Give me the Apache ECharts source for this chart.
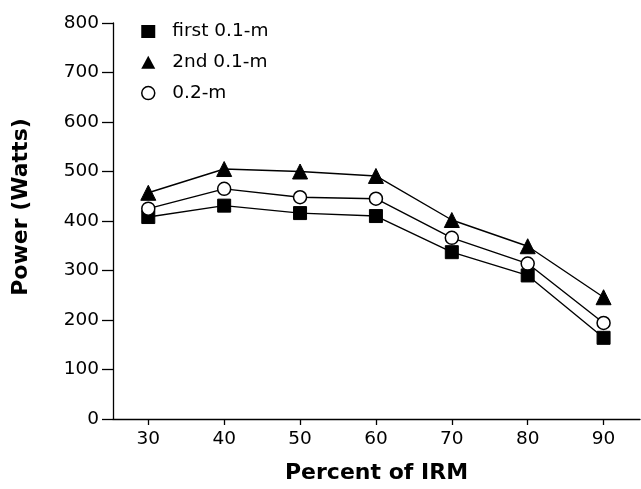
<!DOCTYPE html>
<html><head><meta charset="utf-8">
<script src="https://cdn.jsdelivr.net/npm/echarts@6/dist/echarts.min.js"></script>
<style>html,body{margin:0;padding:0;background:#fff}#c{width:641px;height:489px}</style>
</head><body><div id="c"></div>
<script>
var percentIRM = [30, 40, 50, 60, 70, 80, 90];
var first01m = [408, 431, 416, 410, 337, 290, 164];
var second01m = [457, 505, 500, 491, 402, 349, 246];
var m02 = [425, 465, 448, 445, 366, 314, 194];
var xTicks = [30, 40, 50, 60, 70, 80, 90];
var seriesNames = ['first 0.1-m', '2nd 0.1-m', '0.2-m'];

function pairs(v) { return percentIRM.map(function (x, i) { return [x, v[i]]; }); }
var font = 'DejaVu Sans, Liberation Sans, Arial, sans-serif';
var chart = echarts.init(document.getElementById('c'));
chart.setOption({
  animation: false,
  backgroundColor: '#fff',
  grid: { left: 113, right: 1, top: 23, bottom: 70, containLabel: false },
  legend: {
    orient: 'vertical', left: 136, top: 17, itemGap: 11.8, itemWidth: 14, itemHeight: 13,
    textStyle: { fontFamily: font, fontSize: 18.5, color: '#000', padding: [0, 0, 0, 12] },
    data: [
      { name: seriesNames[0], icon: 'rect', itemStyle: { color: '#000' } },
      { name: seriesNames[1], icon: 'triangle', itemStyle: { color: '#000' } },
      { name: seriesNames[2], icon: 'circle', itemStyle: { color: '#fff', borderColor: '#000', borderWidth: 1.5 } }
    ]
  },
  xAxis: {
    type: 'value', min: 25.35, max: 94.8,
    name: 'Percent of IRM', nameLocation: 'middle', nameGap: 43,
    nameTextStyle: { fontFamily: font, fontSize: 22, fontWeight: 'bold', color: '#000' },
    axisLine: { show: true, lineStyle: { color: '#000', width: 1.3 } },
    axisTick: { show: true, length: 6, customValues: xTicks, lineStyle: { color: '#000', width: 1.3 } },
    axisLabel: { customValues: xTicks, fontFamily: font, fontSize: 18.5, color: '#000', margin: 11 },
    splitLine: { show: false }
  },
  yAxis: {
    type: 'value', min: 0, max: 800, interval: 100,
    name: 'Power (Watts)', nameLocation: 'middle', nameGap: 81,
    nameTextStyle: { fontFamily: font, fontSize: 22, fontWeight: 'bold', color: '#000', padding: [0, 0, 0, 28] },
    axisLine: { show: true, lineStyle: { color: '#000', width: 1.3 } },
    axisTick: { show: true, length: 11, lineStyle: { color: '#000', width: 1.3 } },
    axisLabel: { fontFamily: font, fontSize: 18.5, color: '#000', margin: 14 },
    splitLine: { show: false }
  },
  series: [
    { name: seriesNames[0], type: 'line', data: pairs(first01m), symbol: 'rect', symbolSize: 13, z: 2,
      lineStyle: { color: '#000', width: 1.4 }, itemStyle: { color: '#000', borderColor: '#000' } },
    { name: seriesNames[1], type: 'line', data: pairs(second01m), symbol: 'triangle', symbolSize: 15, z: 4,
      lineStyle: { color: '#000', width: 1.4 }, itemStyle: { color: '#000', borderColor: '#000' } },
    { name: seriesNames[2], type: 'line', data: pairs(m02), symbol: 'circle', symbolSize: 13, z: 3,
      lineStyle: { color: '#000', width: 1.4 }, itemStyle: { color: '#fff', borderColor: '#000', borderWidth: 1.5 } }
  ]
});
</script></body></html>
